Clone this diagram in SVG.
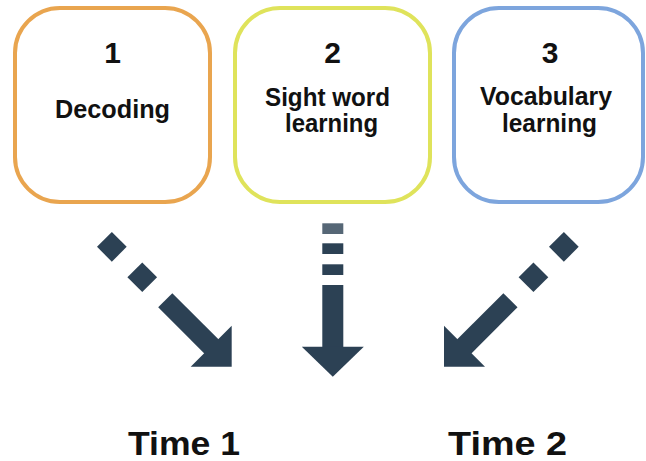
<svg xmlns="http://www.w3.org/2000/svg" width="646" height="461" viewBox="0 0 646 461">
  <style>
    .box { fill: #ffffff; stroke-width: 4; }
    .t { font-family: "Liberation Sans Narrow", "Liberation Sans", Arial, sans-serif; font-weight: bold; fill: #111111; text-anchor: middle; }
    .num { font-size: 30px; }
    .lbl { font-size: 25px; }
    .time { font-size: 34px; }
    .arrow { fill: #2c4154; }
  </style>
  <defs>
    <!-- Dotted diagonal arrow, drawn pointing down with its tip at the origin -->
    <g id="diagArrow">
      <rect x="-10.5" y="-180" width="21" height="21"/>
      <rect x="-10.5" y="-137" width="21" height="21"/>
      <rect x="-10" y="-94" width="20" height="66"/>
      <polygon points="0,0 -29,-29 29,-29"/>
    </g>
  </defs>

  <g id="node-decoding">
    <rect class="box" x="15" y="8" width="195" height="194" rx="45" stroke="#e9a54f"/>
    <text class="t num" x="112.5" y="63">1</text>
    <text class="t lbl" x="112.5" y="118" textLength="115" lengthAdjust="spacingAndGlyphs">Decoding</text>
  </g>

  <g id="node-sight-word">
    <rect class="box" x="235" y="8" width="195" height="194" rx="45" stroke="#dfe35b"/>
    <text class="t num" x="332.5" y="63">2</text>
    <text class="t lbl" x="327.5" y="106" textLength="125" lengthAdjust="spacingAndGlyphs">Sight word</text>
    <text class="t lbl" x="331.5" y="132" textLength="93" lengthAdjust="spacingAndGlyphs">learning</text>
  </g>

  <g id="node-vocabulary">
    <rect class="box" x="454" y="8" width="189" height="194" rx="45" stroke="#7da5dd"/>
    <text class="t num" x="550" y="63">3</text>
    <text class="t lbl" x="546" y="105" textLength="132" lengthAdjust="spacingAndGlyphs">Vocabulary</text>
    <text class="t lbl" x="549.5" y="132" textLength="95" lengthAdjust="spacingAndGlyphs">learning</text>
  </g>

  <g id="connectors" class="arrow">
    <use href="#diagArrow" transform="translate(231.7,366.7) rotate(-45)"/>
    <g transform="translate(332.8,376.7)">
      <rect x="-10.5" y="-153.4" width="21" height="10.7" opacity="0.8"/>
      <rect x="-10.5" y="-133.4" width="21" height="10.7"/>
      <rect x="-10.5" y="-112.4" width="21" height="10.7"/>
      <rect x="-10.5" y="-91.7" width="21" height="62"/>
      <polygon points="0,0 -31,-30 31,-30"/>
    </g>
    <use href="#diagArrow" transform="translate(444,366.7) rotate(45)"/>
  </g>

  <g id="time-1">
    <text class="t time" x="184" y="455" textLength="112" lengthAdjust="spacingAndGlyphs">Time 1</text>
  </g>
  <g id="time-2">
    <text class="t time" x="507.5" y="455" textLength="119" lengthAdjust="spacingAndGlyphs">Time 2</text>
  </g>
</svg>
